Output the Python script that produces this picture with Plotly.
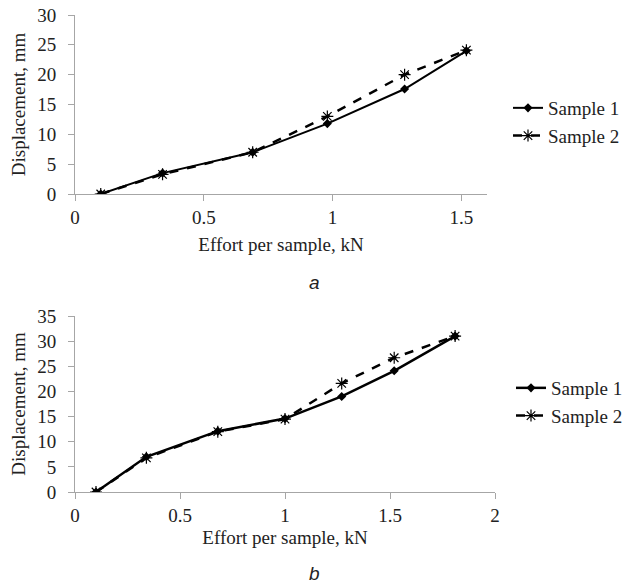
import plotly.graph_objects as go

# Chart a
effort_a = [0.10, 0.34, 0.69, 0.98, 1.28, 1.52]
disp_a_s1 = [0, 3.5, 7.0, 11.8, 17.6, 24.0]
disp_a_s2 = [0, 3.3, 7.0, 13.0, 20.0, 24.1]

# Chart b
effort_b = [0.10, 0.34, 0.68, 1.00, 1.27, 1.52, 1.81]
disp_b_s1 = [0, 7.0, 12.1, 14.6, 19.0, 24.1, 31.0]
disp_b_s2 = [0, 6.8, 12.0, 14.5, 21.6, 26.7, 31.0]

series_names = ["Sample 1", "Sample 2"]
xtick_a = [0, 0.5, 1, 1.5]
xtick_b = [0, 0.5, 1, 1.5, 2]
ytick_a = [0, 5, 10, 15, 20, 25, 30]
ytick_b = [0, 5, 10, 15, 20, 25, 30, 35]

W, H = 629, 585
FONT = "Liberation Serif"
AX = "#a6a6a6"

fig = go.Figure()

def add_pair(x, y1, y2, xa, ya, legend, w1, w2):
    fig.add_trace(go.Scatter(x=x, y=y1, name=series_names[0], mode="lines+markers",
                             line=dict(color="black", width=w1),
                             marker=dict(symbol="diamond", size=7, color="black"),
                             xaxis=xa, yaxis=ya, legend=legend))
    fig.add_trace(go.Scatter(x=x, y=y2, name=series_names[1], mode="lines+markers",
                             line=dict(color="black", width=w2, dash="dash"),
                             marker=dict(symbol="asterisk-open", size=10, color="black",
                                         line=dict(width=1.2, color="black")),
                             xaxis=xa, yaxis=ya, legend=legend))

add_pair(effort_a, disp_a_s1, disp_a_s2, "x", "y", "legend", 2, 2.5)
add_pair(effort_b, disp_b_s1, disp_b_s2, "x2", "y2", "legend2", 2.5, 2.5)

axis_common = dict(showgrid=False, zeroline=False, showline=True, linecolor=AX, linewidth=1,
                   ticks="outside", tickcolor=AX, ticklen=6, tickwidth=1, automargin=False,
                   tickfont=dict(family=FONT, size=19, color="#222"))

def px_x(a, b):
    return [a / W, b / W]

def px_y(top, bottom):
    return [1 - bottom / H, 1 - top / H]

fig.update_layout(
    width=W, height=H,
    margin=dict(l=0, r=0, t=0, b=0, autoexpand=False),
    paper_bgcolor="white", plot_bgcolor="white",
    font=dict(family=FONT, size=19, color="#222"),
    xaxis=dict(domain=px_x(75, 487), range=[0, 1.6], tickvals=xtick_a, anchor="y",
               title=dict(text="Effort per sample, kN", font=dict(family=FONT, size=19), standoff=10),
               **axis_common),
    yaxis=dict(domain=px_y(15, 194), range=[0, 30], tickvals=ytick_a, anchor="x",
               ticklabelstandoff=8,
               title=dict(text="Displacement, mm", font=dict(family=FONT, size=19), standoff=6),
               **axis_common),
    xaxis2=dict(domain=px_x(75, 495), range=[0, 2], tickvals=xtick_b, anchor="y2",
                title=dict(text="Effort per sample, kN", font=dict(family=FONT, size=19), standoff=5),
                **axis_common),
    yaxis2=dict(domain=px_y(316, 492), range=[0, 35], tickvals=ytick_b, anchor="x2",
                ticklabelstandoff=8,
                title=dict(text="Displacement, mm", font=dict(family=FONT, size=19), standoff=6),
                **axis_common),
    legend=dict(x=508 / W, y=1 - 89 / H, xanchor="left", yanchor="top",
                font=dict(family=FONT, size=19), bgcolor="rgba(0,0,0,0)", itemwidth=30),
    legend2=dict(x=511 / W, y=1 - 369 / H, xanchor="left", yanchor="top",
                 font=dict(family=FONT, size=19), bgcolor="rgba(0,0,0,0)", itemwidth=30),
    showlegend=True,
    annotations=[
        dict(text="<i>a</i>", x=315 / W, y=1 - 282 / H, xref="paper", yref="paper",
             showarrow=False, font=dict(family="Liberation Sans", size=19, color="#222")),
        dict(text="<i>b</i>", x=315 / W, y=0, yanchor="bottom", xref="paper", yref="paper",
             borderpad=0, showarrow=False,
             font=dict(family="Liberation Sans", size=19, color="#222")),
    ],
)

fig.write_html("out.html", config={"displayModeBar": False},
               post_script="document.body.style.margin='0';document.body.style.overflow='hidden';")
